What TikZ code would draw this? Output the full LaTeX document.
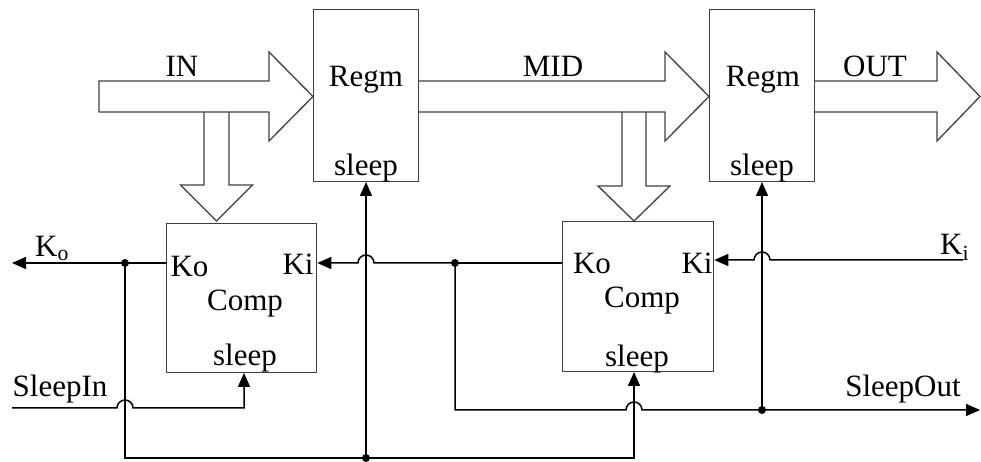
\documentclass[tikz,border=0pt]{standalone}
\usepackage{fontspec}
\setmainfont{Liberation Serif}
\usetikzlibrary{arrows.meta}
\begin{document}
\begin{tikzpicture}[x=1pt,y=1pt,
  box/.style={draw=black!75, line width=1.3pt, inner sep=0pt},
  blk/.style={draw=black!75, line width=1.3pt, line join=miter},
  wire/.style={line width=1.5pt},
  arr/.style={wire,-{Triangle[length=14pt,width=12pt]}},
  lbl/.style={anchor=base,inner sep=0pt,font=\fontsize{31}{36}\selectfont},
  lblw/.style={lbl,anchor=base west}]
\useasboundingbox (0,0) rectangle (981,462);

% boxes
\node[box, minimum width=105pt, minimum height=172pt, anchor=south west] (regm1) at (313,280) {};
\node[box, minimum width=105pt, minimum height=172pt, anchor=south west] (regm2) at (709,280) {};
\node[box, minimum width=150pt, minimum height=149pt, anchor=south west] (comp1) at (166,89) {};
\node[box, minimum width=151pt, minimum height=150pt, anchor=south west] (comp2) at (562,90) {};

% block arrows
\draw[blk] (99,350) -- (269,350) -- (269,321) -- (313,365.5) -- (269,410) -- (269,381) -- (99,381) -- cycle;
\draw[blk] (418,350) -- (665,350) -- (665,321) -- (709,365.5) -- (665,410) -- (665,381) -- (418,381);
\draw[blk] (814,350) -- (937,350) -- (937,321) -- (980,365.5) -- (937,410) -- (937,381) -- (814,381);
\draw[blk] (204,350) -- (204,277) -- (180.5,277) -- (216.5,241) -- (252.5,277) -- (229,277) -- (229,350);
\draw[blk] (622,350) -- (622,276) -- (598,276) -- (634,241) -- (670,276) -- (646,276) -- (646,350);

% junctions and free ends
\coordinate (j1) at (125,199);
\coordinate (j2) at (455,199);
\coordinate (j3) at (366,4);
\coordinate (j4) at (762,52);
\coordinate (koout) at (12,199);
\coordinate (sin) at (12,54);
\coordinate (sout) at (980,52);
\coordinate (kin) at (963,202);

% connectors
\draw[arr] (comp1.west |- j1) -- (koout);
\draw[arr] (j1) |- (j3) -| (634,0 |- comp2.south);
\draw[arr] (j3) -- (j3 |- regm1.south);
\draw[arr] (j2) -- (374,199) arc[start angle=0,end angle=180,radius=8pt] -- (comp1.east |- j2);
\draw[wire] (j2) -- (comp2.west |- j2);
\draw[arr] (j2) |- (626,52) arc[start angle=180,end angle=0,radius=8pt] -- (sout);
\draw[arr] (j4) -- (j4 |- regm2.south);
\draw[arr] (sin) -- (117,54) arc[start angle=180,end angle=0,radius=8pt] -| (244,0 |- comp1.south);
\draw[arr] (kin) -- (770,202) arc[start angle=0,end angle=180,radius=8pt] -- (comp2.east |- kin);

% dots
\foreach \p in {j1,j2,j3,j4} \fill (\p) circle (4pt);

% labels
\node[lbl] (tin) at (182,385) {IN};
\node[lbl] (tmid) at (553,385) {MID};
\node[lbl] (tout) at (875,385) {OUT};
\node[lbl] (r1) at (366,375) {Regm};
\node[lbl] (r1s) at (366,286) {sleep};
\node[lbl] (r2) at (763,375) {Regm};
\node[lbl] (r2s) at (762,286) {sleep};
\node[lbl] (c1ko) at (189.5,185) {Ko};
\node[lbl] (c1ki) at (298,187) {Ki};
\node[lbl] (c1) at (245,151) {Comp};
\node[lbl] (c1s) at (245,96) {sleep};
\node[lbl] (c2ko) at (592,188) {Ko};
\node[lbl] (c2ki) at (697,188) {Ki};
\node[lbl] (c2) at (642,154) {Comp};
\node[lbl] (c2s) at (637,95) {sleep};
\node[lbl] (tsin) at (60,65) {SleepIn};
\node[lbl] (tsout) at (903,65) {SleepOut};
\node[lblw] (tko) at (35,205) {K\textsubscript{o}};
\node[lblw] (tki) at (940,207) {K\textsubscript{i}};
\end{tikzpicture}
\end{document}
